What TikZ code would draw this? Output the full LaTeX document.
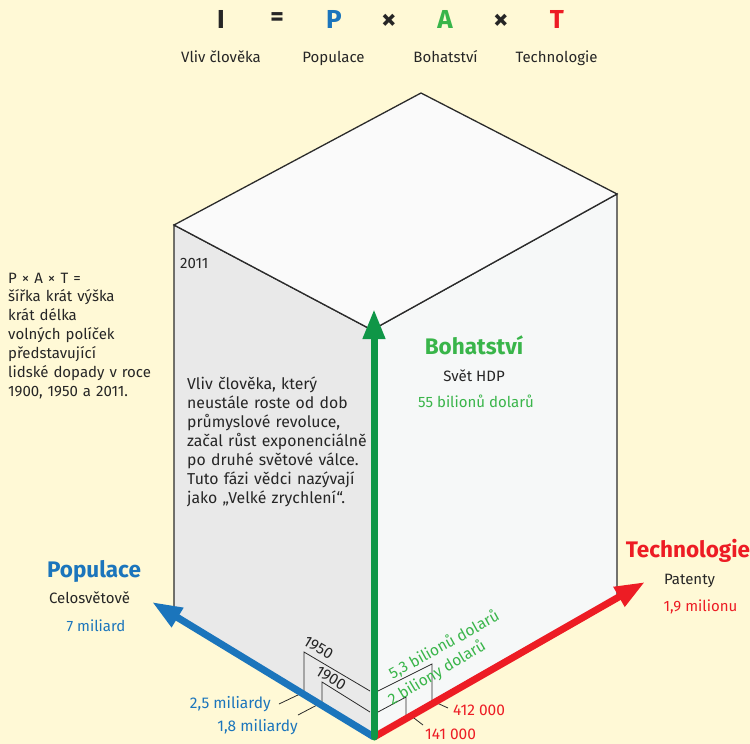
\documentclass[tikz,border=0pt]{standalone}
\usepackage{fontspec}
\setmainfont{Fira Sans}
\usetikzlibrary{arrows.meta}
\definecolor{bg}{HTML}{FFF9D6}
\definecolor{pblue}{HTML}{1B75BC}
\definecolor{agreen}{HTML}{0F9647}
\definecolor{tgreen}{HTML}{39B54A}
\definecolor{tred}{HTML}{ED1C24}
\definecolor{edge}{HTML}{2B2B2B}
\definecolor{lface}{HTML}{E9E9E9}
\definecolor{rface}{HTML}{F6F8F8}
\definecolor{tface}{HTML}{FAFAFA}
\tikzset{
  face/.style={draw=edge, line width=1.3pt, line join=miter},
  axisarrow/.style={line width=7pt, -{Triangle[length=30pt,width=21pt]}},
  bracket/.style={draw=edge, line width=0.8pt},
  big/.style={font=\fontsize{26}{26}\selectfont\bfseries, inner sep=0pt, anchor=center},
  times/.style={font=\fontsize{30}{30}\selectfont\bfseries, inner sep=0pt, anchor=center, text=black!85},
  sub/.style={font=\fontsize{15}{17}\selectfont, inner sep=0pt, anchor=base, text=black!85},
  head/.style={font=\fontsize{22.5}{25}\selectfont\bfseries, inner sep=0pt, anchor=base},
  lab/.style={font=\fontsize{15.5}{17}\selectfont, inner sep=0pt},
  block/.style={font=\fontsize{15}{18.9}\selectfont, inner sep=0pt, anchor=base west, align=left, text width=220pt, text=black!85},
}
\begin{document}
\begin{tikzpicture}[x=1pt,y=-1pt]
\fill[bg] (0,0) rectangle (750,744);
\useasboundingbox (0,0) rectangle (750,744);

% box corners
\coordinate (B) at (421,93);
\coordinate (L) at (174,225);
\coordinate (F) at (372,330);
\coordinate (R) at (617,194);
\coordinate (LB) at (174,614);
\coordinate (O) at (374,737);
\coordinate (RB) at (617,598);

\filldraw[face, fill=lface] (L) -- (F) -- (O) -- (LB) -- cycle;
\filldraw[face, fill=rface] (F) -- (R) -- (RB) -- (O) -- cycle;
\filldraw[face, fill=tface] (B) -- (L) -- (F) -- (R) -- cycle;

% brackets 1950 / 1900
\coordinate (b50a) at (304,694); \coordinate (b50b) at (304,652); \coordinate (b50c) at (370,691);
\coordinate (b50d) at (378,691); \coordinate (b50e) at (432,664); \coordinate (b50f) at (432,704);
\coordinate (b00a) at (322,706); \coordinate (b00b) at (322,682); \coordinate (b00c) at (370,712);
\coordinate (b00d) at (378,712); \coordinate (b00e) at (406,697); \coordinate (b00f) at (406,719);
\draw[bracket] (b50a) -- (b50b) -- (b50c);
\draw[bracket] (b50d) -- (b50e) -- (b50f);
\draw[bracket] (b00a) -- (b00b) -- (b00c);
\draw[bracket] (b00d) -- (b00e) -- (b00f);

% leaders
\coordinate (l1a) at (300,694); \coordinate (l1b) at (279,704);
\coordinate (l2a) at (319,704); \coordinate (l2b) at (298,715);
\coordinate (r1a) at (437,703); \coordinate (r1b) at (448,708);
\coordinate (r2a) at (410,715); \coordinate (r2b) at (423,725);
\draw[bracket] (l1a) -- (l1b);
\draw[bracket] (l2a) -- (l2b);
\draw[bracket] (r1a) -- (r1b);
\draw[bracket] (r2a) -- (r2b);

% axis arrows
\coordinate (ptip) at (152,602);
\coordinate (ttip) at (645,582);
\coordinate (atip) at (374,309);
\draw[axisarrow, pblue] (O) -- (ptip);
\draw[axisarrow, tred] (O) -- (ttip);
\draw[axisarrow, agreen, line cap=round] (O) -- (atip);

% title row
\node[big, text=black!85] (tI) at (221,19) {I};
\node[big, text=black!85] (tEq) at (277,19) {=};
\node[big, text=pblue] (tP) at (334,19) {P};
\node[times] (tX1) at (389,22) {×};
\node[big, text=tgreen] (tA) at (445,19) {A};
\node[times] (tX2) at (501,22) {×};
\node[big, text=tred] (tT) at (557,19) {T};
\node[sub] (sI) at (221,62) {Vliv člověka};
\node[sub] (sP) at (333.5,62) {Populace};
\node[sub] (sA) at (445.5,62) {Bohatství};
\node[sub] (sT) at (556.5,62) {Technologie};

% left explanation
\node[block] (expl) at (8,283) {P × A × T =\\šířka krát výška\\krát délka\\volných políček\\představující\\lidské dopady v roce\\1900, 1950 a 2011.};
\node[lab, anchor=base west, text=black!85, font=\fontsize{15}{17}\selectfont] (y2011) at (180,268) {2011};
\node[block, font=\fontsize{15.8}{19}\selectfont] (face) at (187,389) {Vliv člověka, který\\neustále roste od dob\\průmyslové revoluce,\\začal růst exponenciálně\\po druhé světové válce.\\Tuto fázi vědci nazývají\\jako „Velké zrychlení“.};

% axis labels
\node[head, text=pblue] (hP) at (94,577) {Populace};
\node[sub] (hP2) at (89.5,603) {Celosvětově};
\node[sub, text=pblue] (hP3) at (96,631) {7 miliard};
\node[head, text=tgreen] (hA) at (474,354) {Bohatství};
\node[sub] (hA2) at (474,381) {Svět HDP};
\node[sub, text=tgreen] (hA3) at (476,407) {55 bilionů dolarů};
\node[head, text=tred] (hT) at (688,557) {Technologie};
\node[sub] (hT2) at (689.5,584) {Patenty};
\node[sub, text=tred] (hT3) at (700.5,611) {1,9 milionu};

% year labels and values
\node[lab, rotate=-31, text=black!85] (y1950) at (318.5,648) {1950};
\node[lab, rotate=-31, text=black!85] (y1900) at (331,678) {1900};
\node[lab, rotate=29, text=tgreen] (g53) at (444,645) {5,3 bilionů dolarů};
\node[lab, rotate=31, text=tgreen] (g2) at (437,673) {2 biliony dolarů};
\node[lab, anchor=base east, text=pblue] (p25) at (271,708) {2,5 miliardy};
\node[lab, anchor=base east, text=pblue] (p18) at (298,731) {1,8 miliardy};
\node[lab, anchor=base west, text=tred] (t412) at (453,715) {412 000};
\node[lab, anchor=base west, text=tred] (t141) at (425,739) {141 000};
\end{tikzpicture}
\end{document}
